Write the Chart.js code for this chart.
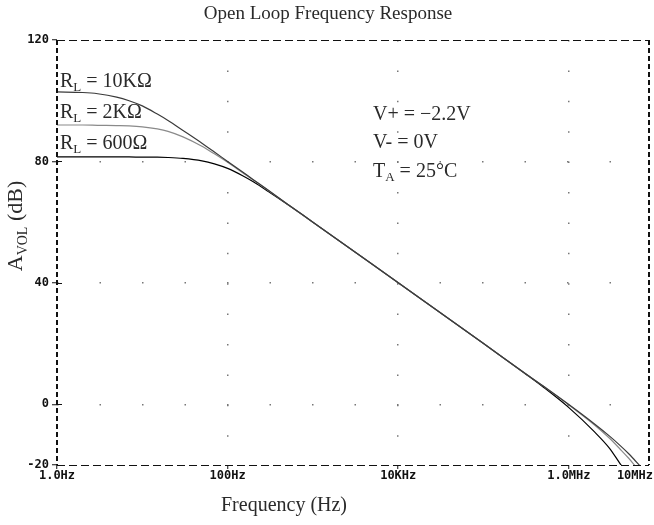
<!DOCTYPE html>
<html><head><meta charset="utf-8">
<script src="https://cdn.jsdelivr.net/npm/chart.js@4/dist/chart.umd.min.js"></script>
<style>html,body{margin:0;padding:0;background:#fff;}canvas{display:block;}</style>
</head><body>
<canvas id="c" width="654" height="525"></canvas>
<script>
// ---- data ----
const titleText = 'Open Loop Frequency Response';
const xTitleText = 'Frequency (Hz)';
const freqs = [1, 2, 3, 5, 7, 10, 15, 20, 30, 50, 70, 100, 150, 200, 300, 500, 1000, 1e4, 1e5, 3e5, 5e5, 1e6, 2e6, 3e6, 4e6, 5e6, 6e6, 7e6];
const rl10k = [102.9, 102.7, 102.3, 101.2, 100.0, 98.3, 95.6, 93.5, 90.2, 86.0, 83.1, 80.0, 76.5, 74.0, 70.5, 66.0, 60.0, 40.0, 20.0, 10.4, 6.0, -0.1, -6.5, -10.5, -13.6, -16.2, -18.6, -20.6];
const rl2k  = [92.0, 92.0, 91.9, 91.8, 91.7, 91.4, 90.7, 89.9, 88.1, 85.0, 82.5, 79.7, 76.3, 73.9, 70.4, 66.0, 60.0, 40.0, 20.0, 10.4, 6.0, -0.2, -6.8, -11.2, -14.8, -17.7, -20.3, -22.5];
const rl600 = [81.5, 81.5, 81.5, 81.5, 81.5, 81.4, 81.4, 81.3, 81.0, 80.2, 79.2, 77.7, 75.3, 73.3, 70.1, 65.9, 60.0, 40.0, 20.0, 10.3, 5.7, -1.1, -9.1, -14.5, -19.6, -23.2, -26.0, -29.0];
const seriesLabels = ['10KΩ', '2KΩ', '600Ω'];
const xTickValues = [1, 100, 1e4, 1e6, 1e7];
const xTickLabels = ['1.0Hz', '100Hz', '10KHz', '1.0MHz', '10MHz'];
const yTickValues = [120, 80, 40, 0, -20];
const xMin = 1, xMax = 8.7e6, yMin = -20, yMax = 120;

const pts = (ys) => freqs.map((f, i) => ({x: f, y: ys[i]}));
const TXT = '#2a2a2a';
const SERIF = '"Liberation Serif", "DejaVu Serif", serif';

function drawRuns(ctx, x, y, runs) {
  let cx = x;
  for (const r of runs) {
    ctx.font = r.size + 'px ' + SERIF;
    ctx.fillText(r.t, cx, y + (r.dy || 0));
    cx += ctx.measureText(r.t).width;
  }
  return cx - x;
}
function runsWidth(ctx, runs) {
  let w = 0;
  for (const r of runs) { ctx.font = r.size + 'px ' + SERIF; w += ctx.measureText(r.t).width; }
  return w;
}

const decor = {
  id: 'decor',
  afterDraw(chart) {
    const ctx = chart.ctx, a = chart.chartArea, xs = chart.scales.x;
    ctx.save();
    // dashed frame
    ctx.strokeStyle = '#111';
    ctx.lineWidth = 1;
    ctx.setLineDash([8, 4]);
    ctx.beginPath(); ctx.moveTo(a.left, a.top + 0.5); ctx.lineTo(a.right, a.top + 0.5); ctx.stroke();
    ctx.beginPath(); ctx.moveTo(a.left, a.bottom + 0.5); ctx.lineTo(a.right, a.bottom + 0.5); ctx.stroke();
    ctx.lineWidth = 2;
    ctx.setLineDash([5, 3]);
    ctx.beginPath(); ctx.moveTo(a.left, a.top); ctx.lineTo(a.left, a.bottom); ctx.stroke();
    ctx.beginPath(); ctx.moveTo(a.right, a.top); ctx.lineTo(a.right, a.bottom); ctx.stroke();
    ctx.setLineDash([]);
    // y tick crosses (inner half)
    ctx.lineWidth = 1;
    for (const v of yTickValues) {
      const py = Math.round(chart.scales.y.getPixelForValue(v)) + 0.5;
      ctx.beginPath(); ctx.moveTo(a.left, py); ctx.lineTo(a.left + 5, py); ctx.stroke();
    }

    // x tick labels
    ctx.fillStyle = '#111';
    ctx.font = 'bold 12px "DejaVu Sans Mono", monospace';
    ctx.textBaseline = 'middle';
    xTickValues.forEach((v, i) => {
      let px = xs.getPixelForValue(v);
      if (px > a.right) { ctx.textAlign = 'right'; px = a.right + 4; }
      else ctx.textAlign = 'center';
      ctx.fillText(xTickLabels[i], px, a.bottom + 11);
    });

    // title and axis titles
    ctx.fillStyle = TXT;
    ctx.textBaseline = 'alphabetic';
    ctx.textAlign = 'center';
    ctx.font = '19px ' + SERIF;
    ctx.fillText(titleText, 328, 19);
    ctx.font = '20px ' + SERIF;
    ctx.fillText(xTitleText, 284, 511);

    ctx.textAlign = 'left';
    const yRuns = [{t: 'A', size: 22}, {t: 'VOL', size: 14, dy: 5}, {t: ' (dB)', size: 22}];
    ctx.save();
    ctx.translate(22, 226);
    ctx.rotate(-Math.PI / 2);
    drawRuns(ctx, -runsWidth(ctx, yRuns) / 2, 0, yRuns);
    ctx.restore();

    // series labels
    const base = [87, 118, 149];
    seriesLabels.forEach((s, i) => {
      drawRuns(ctx, a.left + 3, base[i], [{t: 'R', size: 20}, {t: 'L', size: 13, dy: 4}, {t: ' = ' + s, size: 20}]);
    });

    // conditions
    drawRuns(ctx, 373, 120, [{t: 'V+ = −2.2V', size: 20}]);
    drawRuns(ctx, 373, 148, [{t: 'V- = 0V', size: 20}]);
    drawRuns(ctx, 373, 177, [{t: 'T', size: 20}, {t: 'A', size: 13, dy: 4}, {t: ' = 25°C', size: 20}]);
    ctx.restore();
  }
};

new Chart(document.getElementById('c'), {
  type: 'line',
  data: {
    datasets: [
      {label: 'RL = 10KΩ', data: pts(rl10k), borderColor: '#3a3a3a', borderWidth: 1.2},
      {label: 'RL = 2KΩ', data: pts(rl2k), borderColor: '#8a8a8a', borderWidth: 1.2},
      {label: 'RL = 600Ω', data: pts(rl600), borderColor: '#000', borderWidth: 1.2}
    ]
  },
  options: {
    responsive: false,
    animation: false,
    elements: {point: {radius: 0}, line: {cubicInterpolationMode: 'monotone', fill: false}},
    layout: {padding: {top: 40, right: 5, left: 0, bottom: 0}},
    plugins: {legend: {display: false}, title: {display: false}, tooltip: {enabled: false}},
    scales: {
      x: {
        type: 'logarithmic', min: xMin, max: xMax,
        afterBuildTicks: (s) => { s.ticks = xTickValues.filter(v => v <= xMax).map(v => ({value: v})); },
        afterFit: (s) => { s.height = 60; },
        ticks: {display: false},
        grid: {
          color: (c) => (c.tick && (c.tick.value === xMin)) ? 'rgba(0,0,0,0)' : '#777',
          lineWidth: 1.5, drawTicks: true, tickLength: 4, tickColor: '#111', tickWidth: 1
        },
        border: {display: false, dash: [1.5, 28.9]}
      },
      y: {
        type: 'linear', min: yMin, max: yMax,
        afterBuildTicks: (s) => { s.ticks = yTickValues.map(v => ({value: v})); },
        afterFit: (s) => { s.width = 57; },
        ticks: {
          color: '#111', padding: 3,
          font: {family: '"DejaVu Sans Mono", monospace', weight: 'bold', size: 12},
          callback: (v) => String(v)
        },
        grid: {
          color: (c) => (c.tick && (c.tick.value === yMax || c.tick.value === yMin)) ? 'rgba(0,0,0,0)' : '#777',
          lineWidth: 1.5, drawTicks: true, tickLength: 5, tickColor: '#111', tickWidth: 1
        },
        border: {display: false, dash: [1.5, 41]}
      }
    }
  },
  plugins: [decor]
});
</script>
</body></html>
